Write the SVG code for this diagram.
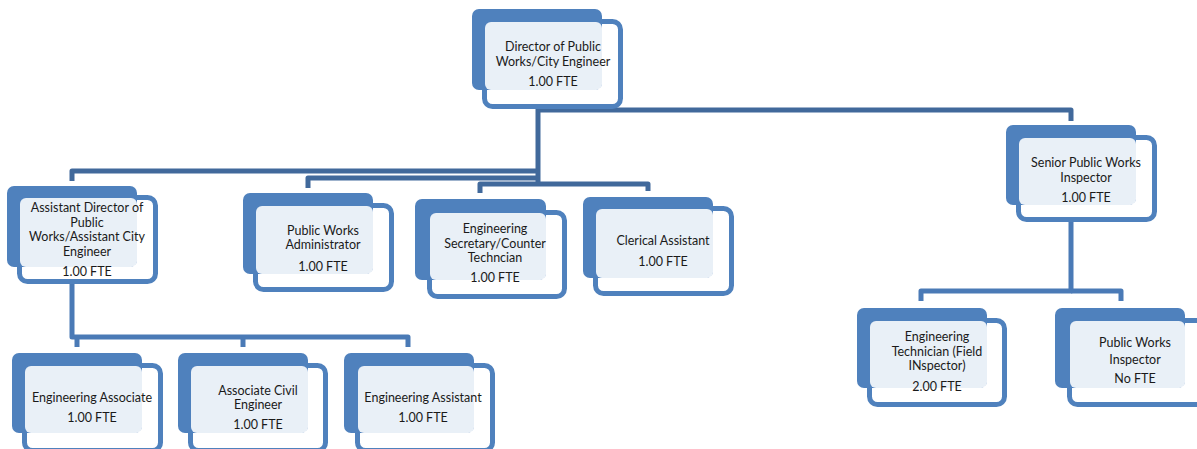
<svg xmlns="http://www.w3.org/2000/svg" width="1197" height="449" viewBox="0 0 1197 449">
  <style>
    .bk { fill: #4f81bd; }
    .fr { fill: #ffffff; stroke: #4f81bd; stroke-width: 5; }
    .ov { fill: #ffffff; fill-opacity: 0.88; }
    .t { font-family: Lato, "Liberation Sans", sans-serif; font-size: 12.5px; fill: #1a1a1a; text-anchor: middle; }
    .c1 { fill: none; stroke: #41699b; stroke-width: 5; stroke-linejoin: round; }
    .c2 { fill: none; stroke: #4a7ab6; stroke-width: 5; stroke-linejoin: round; }
  </style>

  <!-- connectors -->
  <g id="connectors">
    <path class="c1" d="M538,100 V186"/>
    <path class="c1" d="M538,110 H1071 V121"/>
    <path class="c1" d="M538,171 H72 V181"/>
    <path class="c1" d="M538,178 H308 V188"/>
    <path class="c1" d="M480,193 V184 H648 V191"/>
    <path class="c2" d="M72,280 V337 H408 V347"/>
    <path class="c2" d="M77,337 V347"/>
    <path class="c2" d="M243,337 V347"/>
    <path class="c2" d="M1071,218 V291 H921 V301"/>
    <path class="c2" d="M1071,291 H1121 V301"/>
  </g>

  <!-- Director -->
  <g id="director" transform="translate(472,9)">
    <rect class="fr" x="12.5" y="12.5" width="136" height="85" rx="8"/>
    <rect class="bk" x="0" y="0" width="130" height="81" rx="7"/>
    <rect class="ov" x="13" y="13" width="117" height="68" rx="6"/>
    <text class="t" x="81" y="42">Director of Public</text>
    <text class="t" x="81" y="57">Works/City Engineer</text>
    <text class="t" x="81" y="77">1.00 FTE</text>
  </g>

  <!-- Assistant Director -->
  <g id="asst-director" transform="translate(7,186)">
    <rect class="fr" x="12.5" y="11.5" width="136" height="84" rx="8"/>
    <rect class="bk" x="0" y="0" width="130" height="81" rx="7"/>
    <rect class="ov" x="13" y="12" width="117" height="69" rx="6"/>
    <text class="t" x="80" y="26">Assistant Director of</text>
    <text class="t" x="80" y="41">Public</text>
    <text class="t" x="80" y="55">Works/Assistant City</text>
    <text class="t" x="80" y="70">Engineer</text>
    <text class="t" x="80" y="90">1.00 FTE</text>
  </g>

  <!-- Public Works Administrator -->
  <g id="pw-admin" transform="translate(243,193)">
    <rect class="fr" x="12.5" y="12.5" width="136" height="84" rx="8"/>
    <rect class="bk" x="0" y="0" width="130" height="81" rx="7"/>
    <rect class="ov" x="13" y="13" width="117" height="68" rx="6"/>
    <text class="t" x="80" y="42">Public Works</text>
    <text class="t" x="80" y="56">Administrator</text>
    <text class="t" x="80" y="78">1.00 FTE</text>
  </g>

  <!-- Engineering Secretary -->
  <g id="eng-secretary" transform="translate(415,199)">
    <rect class="fr" x="14.5" y="13.5" width="135" height="84" rx="8"/>
    <rect class="bk" x="0" y="0" width="131" height="81" rx="7"/>
    <rect class="ov" x="15" y="14" width="116" height="67" rx="6"/>
    <text class="t" x="80" y="34">Engineering</text>
    <text class="t" x="80" y="49">Secretary/Counter</text>
    <text class="t" x="80" y="63">Techncian</text>
    <text class="t" x="80" y="83">1.00 FTE</text>
  </g>

  <!-- Clerical Assistant -->
  <g id="clerical" transform="translate(583,197)">
    <rect class="fr" x="12.5" y="11.5" width="136" height="85" rx="8"/>
    <rect class="bk" x="0" y="0" width="130" height="81" rx="7"/>
    <rect class="ov" x="13" y="12" width="117" height="69" rx="6"/>
    <text class="t" x="80" y="48">Clerical Assistant</text>
    <text class="t" x="80" y="69">1.00 FTE</text>
  </g>

  <!-- Senior Public Works Inspector -->
  <g id="senior-inspector" transform="translate(1006,125)">
    <rect class="fr" x="12.5" y="12.5" width="136" height="82" rx="8"/>
    <rect class="bk" x="0" y="0" width="130" height="80" rx="7"/>
    <rect class="ov" x="13" y="13" width="117" height="67" rx="6"/>
    <text class="t" x="80" y="42">Senior Public Works</text>
    <text class="t" x="80" y="57">Inspector</text>
    <text class="t" x="80" y="77">1.00 FTE</text>
  </g>

  <!-- Engineering Associate -->
  <g id="eng-associate" transform="translate(12,353)">
    <rect class="fr" x="12.5" y="12.5" width="136" height="85" rx="8"/>
    <rect class="bk" x="0" y="0" width="130" height="80" rx="7"/>
    <rect class="ov" x="13" y="13" width="117" height="67" rx="6"/>
    <text class="t" x="80" y="49">Engineering Associate</text>
    <text class="t" x="80" y="69">1.00 FTE</text>
  </g>

  <!-- Associate Civil Engineer -->
  <g id="assoc-civil" transform="translate(178,353)">
    <rect class="fr" x="12.5" y="12.5" width="135" height="85" rx="8"/>
    <rect class="bk" x="0" y="0" width="130" height="80" rx="7"/>
    <rect class="ov" x="13" y="13" width="117" height="67" rx="6"/>
    <text class="t" x="80" y="42">Associate Civil</text>
    <text class="t" x="80" y="56">Engineer</text>
    <text class="t" x="80" y="76">1.00 FTE</text>
  </g>

  <!-- Engineering Assistant -->
  <g id="eng-assistant" transform="translate(344,353)">
    <rect class="fr" x="13.5" y="12.5" width="135" height="85" rx="8"/>
    <rect class="bk" x="0" y="0" width="130" height="80" rx="7"/>
    <rect class="ov" x="14" y="13" width="116" height="67" rx="6"/>
    <text class="t" x="79" y="49">Engineering Assistant</text>
    <text class="t" x="79" y="69">1.00 FTE</text>
  </g>

  <!-- Engineering Technician -->
  <g id="eng-technician" transform="translate(857,308)">
    <rect class="fr" x="12.5" y="12.5" width="135" height="84" rx="8"/>
    <rect class="bk" x="0" y="0" width="130" height="80" rx="7"/>
    <rect class="ov" x="13" y="13" width="117" height="67" rx="6"/>
    <text class="t" x="80" y="33">Engineering</text>
    <text class="t" x="80" y="48">Technician (Field</text>
    <text class="t" x="80" y="62">INspector)</text>
    <text class="t" x="80" y="83">2.00 FTE</text>
  </g>

  <!-- Public Works Inspector -->
  <g id="pw-inspector" transform="translate(1055,308)">
    <rect class="fr" x="14.5" y="12.5" width="136" height="84" rx="8"/>
    <rect class="bk" x="0" y="0" width="130" height="80" rx="7"/>
    <rect class="ov" x="15" y="13" width="115" height="67" rx="6"/>
    <text class="t" x="80" y="39">Public Works</text>
    <text class="t" x="80" y="56">Inspector</text>
    <text class="t" x="80" y="75">No FTE</text>
  </g>
</svg>
